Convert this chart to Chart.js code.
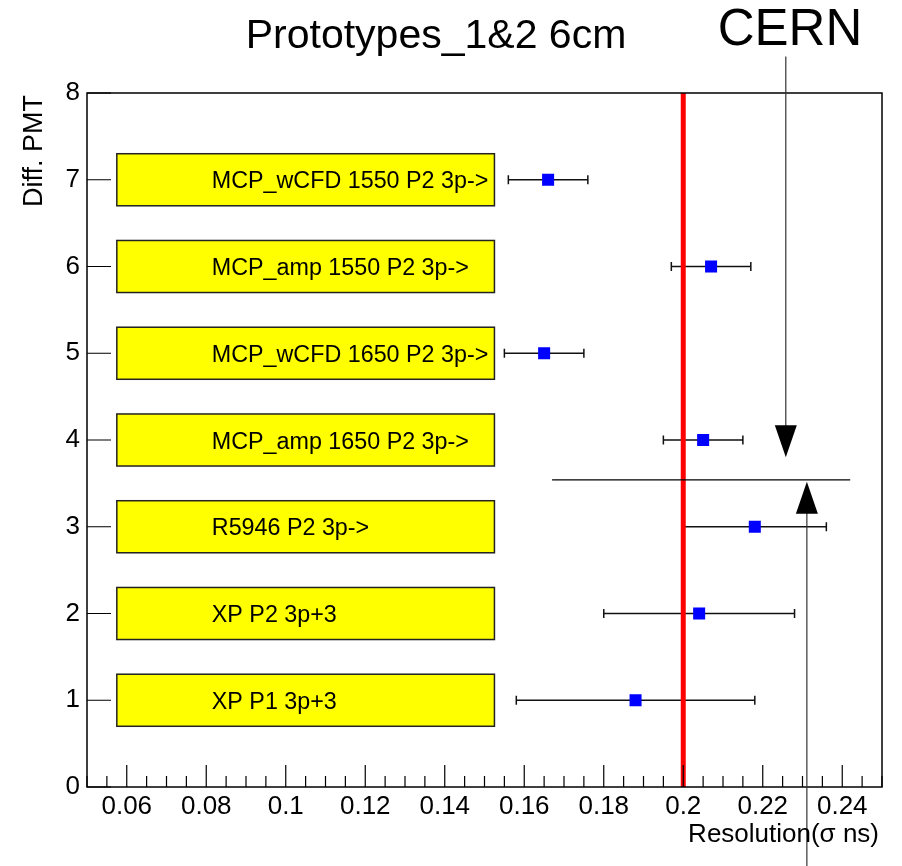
<!DOCTYPE html>
<html>
<head>
<meta charset="utf-8">
<script src="https://cdn.jsdelivr.net/npm/chart.js@4.4.0/dist/chart.umd.min.js"></script>
<style>
  html, body { margin: 0; padding: 0; background: #fff; }
</style>
</head>
<body>
<canvas id="chart" width="902" height="866"></canvas>
<script>
// one row per PMT setup, bottom to top
var pmtRows = [1, 2, 3, 4, 5, 6, 7]
var pmtLabels = ['XP P1 3p+3', 'XP P2 3p+3', 'R5946 P2 3p->', 'MCP_amp 1650 P2 3p->',
    'MCP_wCFD 1650 P2 3p->', 'MCP_amp 1550 P2 3p->', 'MCP_wCFD 1550 P2 3p->']
var resolution = [0.188, 0.204, 0.218, 0.205, 0.165, 0.207, 0.166]
var resolutionErr = [0.030, 0.024, 0.018, 0.010, 0.010, 0.010, 0.010]
var xTicks = [0.06, 0.08, 0.1, 0.12, 0.14, 0.16, 0.18, 0.2, 0.22, 0.24]
var yTicks = [0, 1, 2, 3, 4, 5, 6, 7, 8]
var refResolution = 0.2
// separator between the MCP rows and the others, and the two arrows
var cutLine = { y: 3.54, x1: 0.167, x2: 0.242 }
var cernArrow = { x: 0.2258, from: 8.42, to: 3.80 }
var upArrow = { x: 0.2311, from: -0.92, to: 3.52 }

var FONT = "'Liberation Sans', Arial, Helvetica, sans-serif"

var rootPlugin = {
    id: 'rootStyle',
    beforeDatasetsDraw(chart) {
        var ctx = chart.ctx, xs = chart.scales.x, ys = chart.scales.y
        ctx.save()
        // label boxes
        pmtRows.forEach((row, i) => {
            var l = xs.getPixelForValue(0.0575), r = xs.getPixelForValue(0.1525)
            var t = ys.getPixelForValue(row + 0.3), b = ys.getPixelForValue(row - 0.3)
            ctx.fillStyle = '#ffff00'
            ctx.fillRect(l, t, r - l, b - t)
            ctx.strokeStyle = '#222'
            ctx.lineWidth = 1.5
            ctx.strokeRect(l, t, r - l, b - t)
            ctx.fillStyle = '#000'
            ctx.font = '23.3px ' + FONT
            ctx.textAlign = 'left'
            ctx.textBaseline = 'alphabetic'
            ctx.fillText(pmtLabels[i], xs.getPixelForValue(0.0814), ys.getPixelForValue(row) + 8.5)
        })
        // error bars
        ctx.strokeStyle = '#111'
        ctx.lineWidth = 1.5
        pmtRows.forEach((row, i) => {
            var y = ys.getPixelForValue(row)
            var a = xs.getPixelForValue(resolution[i] - resolutionErr[i])
            var b = xs.getPixelForValue(resolution[i] + resolutionErr[i])
            ctx.beginPath()
            ctx.moveTo(a, y); ctx.lineTo(b, y)
            ctx.moveTo(a, y - 4.5); ctx.lineTo(a, y + 4.5)
            ctx.moveTo(b, y - 4.5); ctx.lineTo(b, y + 4.5)
            ctx.stroke()
        })
        ctx.restore()
    },
    afterDatasetsDraw(chart) {
        var ctx = chart.ctx, xs = chart.scales.x, ys = chart.scales.y, area = chart.chartArea
        ctx.save()
        // frame
        ctx.strokeStyle = '#000'
        ctx.lineWidth = 1.5
        ctx.strokeRect(area.left, area.top, area.right - area.left, area.bottom - area.top)
        // inward ticks
        ctx.lineWidth = 1.2
        ctx.beginPath()
        for (var k = 0; k <= 40; k++) {
            var v = 0.05 + k * 0.005
            var px = xs.getPixelForValue(v)
            var major = xTicks.some(t => Math.abs(t - v) < 1e-6)
            ctx.moveTo(px, area.bottom)
            ctx.lineTo(px, area.bottom - (major ? 22 : 11))
        }
        yTicks.forEach(v => {
            var py = ys.getPixelForValue(v)
            ctx.moveTo(area.left, py)
            ctx.lineTo(area.left + 24, py)
        })
        ctx.stroke()

        // separator line
        ctx.lineWidth = 1.3
        ctx.strokeStyle = '#000'
        ctx.beginPath()
        ctx.moveTo(xs.getPixelForValue(cutLine.x1), ys.getPixelForValue(cutLine.y))
        ctx.lineTo(xs.getPixelForValue(cutLine.x2), ys.getPixelForValue(cutLine.y))
        ctx.stroke()

        // arrows
        function arrow(a) {
            var x = xs.getPixelForValue(a.x)
            var y0 = ys.getPixelForValue(a.from), y1 = ys.getPixelForValue(a.to)
            var dir = y1 > y0 ? 1 : -1
            ctx.strokeStyle = '#333'
            ctx.lineWidth = 1.2
            ctx.beginPath()
            ctx.moveTo(x, y0); ctx.lineTo(x, y1 - dir * 30)
            ctx.stroke()
            ctx.fillStyle = '#000'
            ctx.beginPath()
            ctx.moveTo(x, y1)
            ctx.lineTo(x - 11, y1 - dir * 32)
            ctx.lineTo(x + 11, y1 - dir * 32)
            ctx.closePath()
            ctx.fill()
        }
        arrow(cernArrow)
        arrow(upArrow)

        // texts
        ctx.fillStyle = '#000'
        ctx.textBaseline = 'alphabetic'
        ctx.textAlign = 'center'
        ctx.font = '41px ' + FONT
        ctx.fillText('Prototypes_1&2 6cm', 436, 48)
        ctx.font = '51px ' + FONT
        ctx.fillText('CERN', 790, 45)
        ctx.textAlign = 'right'
        ctx.font = '26px ' + FONT
        ctx.fillText('Resolution(\u03c3 ns)', 879, 842)
        ctx.save()
        ctx.translate(42, 93)
        ctx.rotate(-Math.PI / 2)
        ctx.textAlign = 'right'
        ctx.font = '27px ' + FONT
        ctx.fillText('Diff. PMT', -2, 0)
        ctx.restore()
        ctx.restore()
    }
}

var ctx = document.getElementById('chart').getContext('2d')
var myChart = new Chart(ctx, {
    type: 'scatter',
    data: {
        datasets: [{
            type: 'line',
            data: [{ x: refResolution, y: 0 }, { x: refResolution, y: 8 }],
            borderColor: '#ff0000',
            borderWidth: 5,
            pointRadius: 0,
            fill: false,
            order: 2
        }, {
            label: 'resolution',
            data: pmtRows.map((row, i) => ({ x: resolution[i], y: row })),
            pointStyle: 'rect',
            pointRadius: 8.5,
            pointBorderWidth: 0,
            backgroundColor: '#0000ff',
            borderColor: '#0000ff',
            order: 1
        }]
    },
    plugins: [rootPlugin],
    options: {
        responsive: false,
        animation: false,
        layout: { padding: { left: 0, top: 93, right: 20, bottom: 0 } },
        plugins: {
            legend: { display: false },
            tooltip: { enabled: false }
        },
        scales: {
            x: {
                type: 'linear',
                min: 0.05,
                max: 0.25,
                afterBuildTicks: s => { s.ticks = xTicks.map(v => ({ value: v })) },
                afterFit: s => { s.height = 79 },
                grid: { display: false, drawTicks: false },
                border: { display: false },
                ticks: {
                    autoSkip: false,
                    maxRotation: 0,
                    padding: 4,
                    color: '#000',
                    font: { family: FONT, size: 26 },
                    callback: v => String(Number(v.toFixed(3)))
                }
            },
            y: {
                type: 'linear',
                min: 0,
                max: 8,
                afterBuildTicks: s => { s.ticks = yTicks.map(v => ({ value: v })) },
                afterFit: s => { s.width = 87 },
                grid: { display: false, drawTicks: false },
                border: { display: false },
                ticks: {
                    padding: 7,
                    color: '#000',
                    font: { family: FONT, size: 26 }
                }
            }
        }
    }
})
</script>
</body>
</html>
